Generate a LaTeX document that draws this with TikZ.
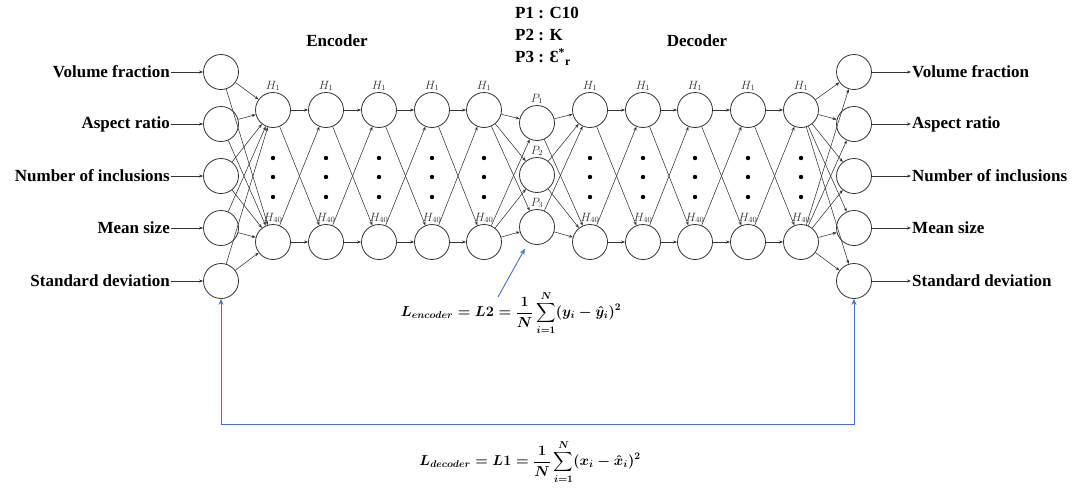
\documentclass[tikz,border=0pt]{standalone}
\usepackage{amsmath, amssymb}
\usepackage{fontspec}
\setmainfont{Liberation Serif}
\usepackage{xcolor}
\usetikzlibrary{
    arrows.meta,
    positioning,
    calc
}
\definecolor{lossblue}{RGB}{68,114,196}
\definecolor{netgray}{RGB}{50,50,50}
\tikzset{
    neuron/.style={
        circle,
        draw=netgray,
        line width=0.8pt,
        minimum size=35pt,
        inner sep=0pt
    },
    featlabel/.style={
        font=\fontsize{17}{19}\selectfont\bfseries,
        inner sep=1pt
    },
    title/.style={
        font=\fontsize{17}{22}\selectfont\bfseries,
        inner sep=1pt
    },
    layerlabel/.style={
        font=\fontsize{11.5}{13}\selectfont,
        text=netgray,
        inner sep=1pt
    },
    arrow/.style={
        -{Stealth[length=4pt,width=3pt]},
        draw=netgray,
        line width=0.55pt
    },
    lossarrow/.style={
        -{Stealth[length=6pt,width=5pt]},
        draw=lossblue,
        line width=0.9pt
    },
    lossformula/.style={
        font=\fontsize{13.6}{15}\selectfont,
        inner sep=1pt
    }
}

\begin{document}
\begin{tikzpicture}[x=1pt, y=-1pt]
\useasboundingbox (0,0) rectangle (1079,493);

% input and output layers
\foreach \txt/\y [count=\i] in {Volume fraction/72, Aspect ratio/124, Number of inclusions/176, Mean size/228, Standard deviation/281}{
    \node[neuron] (in\i) at (221,\y) {};
    \node[neuron] (out\i) at (854,\y) {};
    \node[featlabel, anchor=east] (fin\i) at (171,\y) {\txt};
    \node[featlabel, anchor=west] (fout\i) at (911,\y) {\txt};
    \draw[arrow] (fin\i) -- (in\i);
    \draw[arrow] (out\i) -- (fout\i);
}

% hidden layers
\foreach \x [count=\c] in {273,326,379,432,484,590,643,695,748,801}{
    \node[neuron, label={[layerlabel]above:$H_1$}] (ha\c) at (\x,110) {};
    \node[neuron, label={[layerlabel]above:$H_{40}$}] (hb\c) at (\x,242) {};
    \foreach \y in {158,177,197}
        \fill (\x,\y) circle (2.2pt);
}

% parameter layer
\node[neuron, label={[layerlabel]above:$P_1$}] (p1) at (537,123) {};
\node[neuron, label={[layerlabel]above:$P_2$}] (p2) at (537,175) {};
\node[neuron, label={[layerlabel]above:$P_3$}] (p3) at (537,227) {};

\node[title] (enc) at (337,41) {Encoder};
\node[title] (dec) at (697,41) {Decoder};
\node[title, align=left, anchor=north west] (params) at (514,6) {P1 : C10\\P2 : K\\P3 : Ɛ\textsuperscript{*}\textsubscript{r}};

% connections
\foreach \i in {1,...,5}
    \foreach \t in {ha1,hb1}
        \draw[arrow] (in\i) -- (\t);
\foreach \c/\n in {1/2,2/3,3/4,4/5,6/7,7/8,8/9,9/10}
    \foreach \s in {ha,hb}
        \foreach \t in {ha,hb}
            \draw[arrow] (\s\c) -- (\t\n);
\foreach \s in {ha5,hb5}
    \foreach \j in {1,2,3}
        \draw[arrow] (\s) -- (p\j);
\foreach \j in {1,2,3}
    \foreach \t in {ha6,hb6}
        \draw[arrow] (p\j) -- (\t);
\foreach \s in {ha10,hb10}
    \foreach \i in {1,...,5}
        \draw[arrow] (\s) -- (out\i);

% losses
\node[lossformula] (lenc) at (511,313)
    {$\displaystyle\boldsymbol{L_{encoder} = L2 = \frac{1}{N}\sum_{i=1}^{N}(y_i-\hat{y}_i)^2}$};
\node[lossformula] (ldec) at (530,462)
    {$\displaystyle\boldsymbol{L_{decoder} = L1 = \frac{1}{N}\sum_{i=1}^{N}(x_i-\hat{x}_i)^2}$};
\coordinate (lencTail) at (498,297);
\coordinate (loopy) at (0,424);
\draw[lossarrow, shorten >=7pt] (lencTail) -- (p3);
\draw[lossarrow, {Stealth[length=6pt,width=5pt]}-{Stealth[length=6pt,width=5pt]}] (in5.south) -- (in5.south |- loopy) -| (out5.south);
\end{tikzpicture}
\end{document}
